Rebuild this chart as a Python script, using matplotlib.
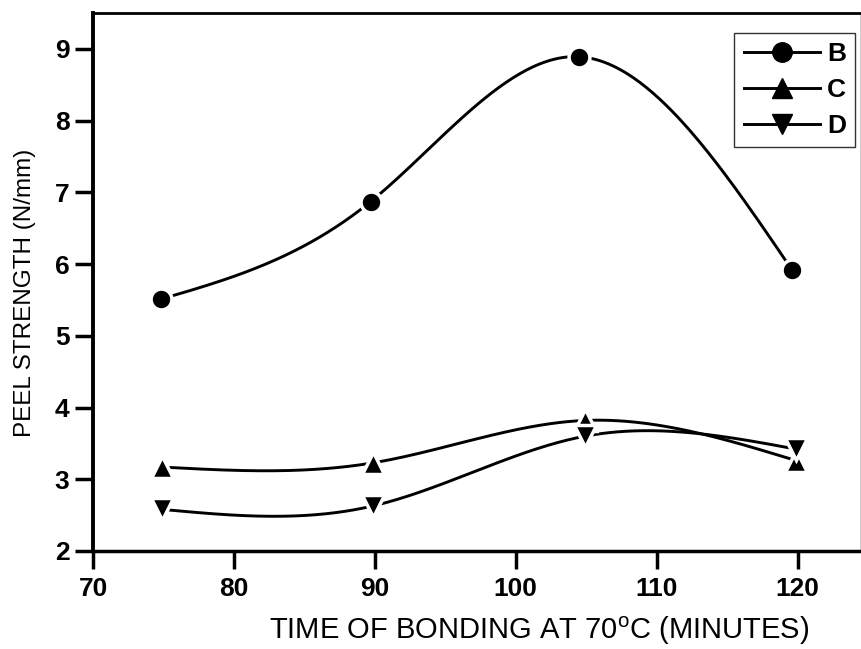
import numpy as np
import matplotlib
matplotlib.use("Agg")
import matplotlib.pyplot as plt
from matplotlib.lines import Line2D

plt.rcParams['font.family'] = ['Liberation Sans', 'DejaVu Sans']
plt.rcParams['mathtext.fontset'] = 'custom'
plt.rcParams['mathtext.rm'] = 'Liberation Sans'
plt.rcParams['mathtext.it'] = 'Liberation Sans:italic'

# bonding time (minutes) and peel strength (N/mm)
time_b = [74.8, 89.7, 104.5, 119.6]
time_cd = [74.9, 89.9, 104.9, 119.9]
peel_b = [5.51, 6.87, 8.89, 5.92]
peel_c = [3.17, 3.23, 3.82, 3.26]
peel_d = [2.58, 2.63, 3.60, 3.42]
series_names = ["B", "C", "D"]
x_ticks = [70, 80, 90, 100, 110, 120]
y_ticks = [2, 3, 4, 5, 6, 7, 8, 9]


def natural_spline(x, y, xs):
    x = np.asarray(x, float)
    y = np.asarray(y, float)
    n = len(x)
    h = np.diff(x)
    A = np.zeros((n, n))
    r = np.zeros(n)
    A[0, 0] = A[-1, -1] = 1.0
    for i in range(1, n - 1):
        A[i, i - 1] = h[i - 1]
        A[i, i] = 2 * (h[i - 1] + h[i])
        A[i, i + 1] = h[i]
        r[i] = 6 * ((y[i + 1] - y[i]) / h[i] - (y[i] - y[i - 1]) / h[i - 1])
    M = np.linalg.solve(A, r)
    out = np.empty_like(xs)
    for k, xv in enumerate(xs):
        i = min(max(np.searchsorted(x, xv) - 1, 0), n - 2)
        t1 = x[i + 1] - xv
        t0 = xv - x[i]
        out[k] = (M[i] * t1 ** 3 + M[i + 1] * t0 ** 3) / (6 * h[i]) \
            + (y[i] / h[i] - M[i] * h[i] / 6) * t1 \
            + (y[i + 1] / h[i] - M[i + 1] * h[i] / 6) * t0
    return out


W, H = 862, 649
fig = plt.figure(figsize=(W / 100, H / 100), dpi=100)
ax = fig.add_axes([93 / W, 1 - 551 / H, (861 - 93) / W, (551 - 13) / H])

markers = ["o", "^", "v"]
msizes = [15, 16, 16]
data = [(time_b, peel_b), (time_cd, peel_c), (time_cd, peel_d)]
for (xs, ys), m, ms in zip(data, markers, msizes):
    xx = np.linspace(xs[0], xs[-1], 300)
    ax.plot(xx, natural_spline(xs, ys, xx), color="black", lw=2.1, zorder=2)
    ax.plot(xs, ys, linestyle="none", marker=m, markersize=ms,
            markerfacecolor="black", markeredgecolor="white",
            markeredgewidth=2.5, zorder=3)

ax.set_xlim(70, 124.5)
ax.set_ylim(2, 9.5)
ax.set_xticks(x_ticks)
ax.set_yticks(y_ticks)
ax.tick_params(axis="both", direction="out", length=13, width=2.5,
               labelsize=19, pad=4)
ax.tick_params(axis="x", pad=6)
ax.tick_params(top=False, right=False)
for lab in ax.get_xticklabels() + ax.get_yticklabels():
    lab.set_fontweight("bold")

ax.spines["left"].set_linewidth(2.8)
ax.spines["bottom"].set_linewidth(2.5)
ax.spines["top"].set_linewidth(2.0)
ax.spines["right"].set_linewidth(1.0)

# axis titles
fig.text(539 / W, 1 - 639 / H,
         r"TIME OF BONDING AT $\mathit{70}^{\mathrm{o}}$C (MINUTES)",
         fontsize=21, ha="center", va="baseline")
fig.text(25 / W, 1 - 293 / H, "PEEL STRENGTH (N/mm)", fontsize=17.5,
         rotation=90, ha="center", va="center")

handles = [Line2D([], [], color="black", lw=2.1, marker=m, markersize=14,
                  markerfacecolor="black", markeredgecolor="black")
           for m in markers]
leg = ax.legend(handles, series_names, loc="upper right", frameon=True,
                fancybox=False, edgecolor="black", handlelength=2.9,
                handletextpad=0.25, borderpad=0.35, labelspacing=0.45,
                prop={"size": 19, "weight": "bold"}, borderaxespad=0)
leg.set_bbox_to_anchor((855 / W, 1 - 33 / H), transform=fig.transFigure)
leg.get_frame().set_linewidth(1.0)

fig.savefig("out.png", dpi=100)
